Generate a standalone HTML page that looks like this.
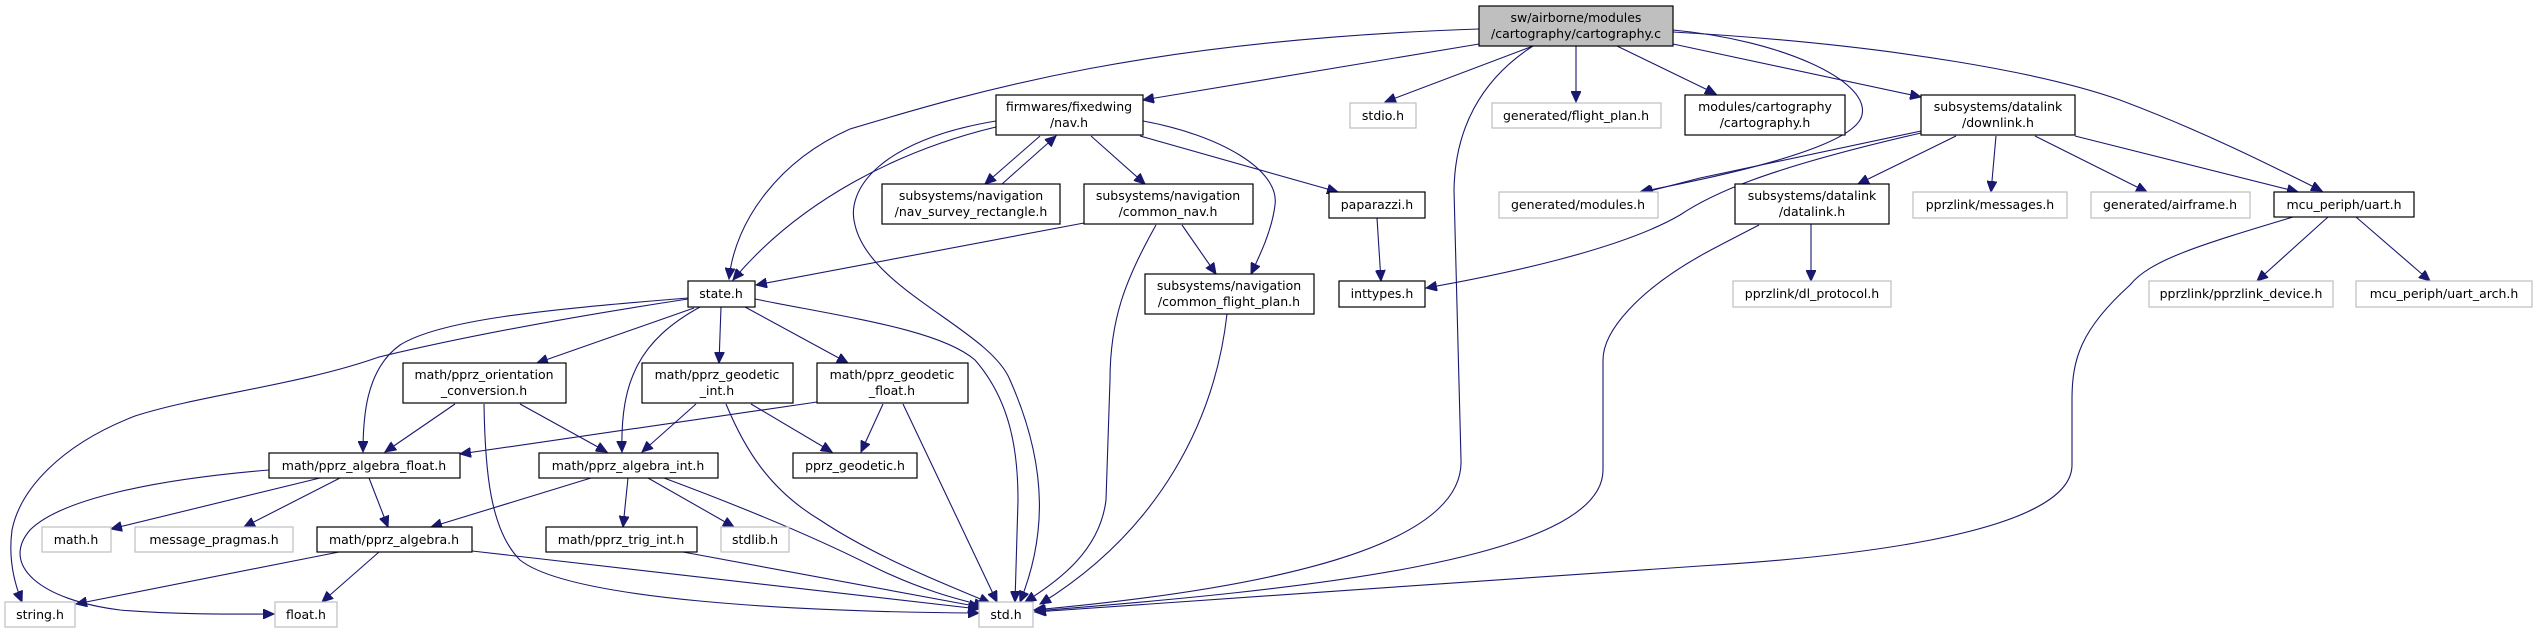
<!DOCTYPE html>
<html><head><meta charset="utf-8"><style>
html,body{margin:0;padding:0;background:#fff;}
svg{display:block;}
text{font-family:"DejaVu Sans","Liberation Sans",sans-serif;font-size:12.5px;fill:#000;}
.n{fill:#fff;stroke:#000;stroke-width:1.2;}
.g{fill:#fff;stroke:#bfbfbf;stroke-width:1.2;}
.m{fill:#bfbfbf;stroke:#000;stroke-width:1.2;}
.e{fill:none;stroke:#191970;stroke-width:1.1;marker-end:url(#a);}
</style></head><body>
<svg width="2536" height="633" viewBox="0 0 2536 633" xmlns="http://www.w3.org/2000/svg">
<defs><marker id="a" markerUnits="userSpaceOnUse" markerWidth="12" markerHeight="10" refX="11" refY="5" orient="auto"><path d="M0,0 L11,5 L0,10 z" fill="#191970" stroke="#191970"/></marker></defs>
<g>
<path class="e" d="M1479,29 C1150,40 980,90 850,129 C780,160 735,220 729,279"/>
<path class="e" d="M1479,44 L1143,100"/>
<path class="e" d="M1533,46 L1385,102"/>
<path class="e" d="M1576,46 L1576,102"/>
<path class="e" d="M1617,46 L1716,94"/>
<path class="e" d="M1673,44 L1921,97"/>
<path class="e" d="M1673,32 C1900,45 2050,75 2120,100 C2200,130 2270,165 2322,191"/>
<path class="e" d="M1533,46 C1480,80 1455,130 1454,190 L1461,460 C1465,560 1200,595 1034,610"/>
<path class="e" d="M1673,30 C1780,40 1870,80 1862,115 C1855,150 1700,180 1640,192"/>
<path class="e" d="M1921,131 L1700,178 L1642,193"/>
<path class="e" d="M1921,133 C1760,170 1710,195 1680,215 C1620,250 1500,275 1426,288"/>
<path class="e" d="M1759,225 C1730,240 1710,250 1700,256 C1640,290 1603,330 1603,360 L1603,470 C1603,560 1300,590 1035,611"/>
<path class="e" d="M1956,136 L1858,184"/>
<path class="e" d="M1996,136 L1991,192"/>
<path class="e" d="M2035,136 L2147,192"/>
<path class="e" d="M2075,136 L2298,192"/>
<path class="e" d="M1811,224 L1811,281"/>
<path class="e" d="M2328,217 L2257,281"/>
<path class="e" d="M2356,217 L2430,281"/>
<path class="e" d="M2293,217 C2200,245 2150,260 2130,285 C2080,330 2072,360 2072,400 L2072,465 C2072,540 1800,560 1700,566 C1500,580 1200,600 1035,612"/>
<path class="e" d="M996,127 C900,150 800,200 733,280"/>
<path class="e" d="M1084,223 L756,285"/>
<path class="e" d="M996,121 C880,140 845,190 855,225 C870,290 990,330 1010,380 C1050,470 1045,540 1020,602"/>
<path class="e" d="M1040,136 L985,184"/>
<path class="e" d="M1002,184 L1056,136"/>
<path class="e" d="M1091,136 L1145,184"/>
<path class="e" d="M1140,136 L1338,192"/>
<path class="e" d="M1143,121 C1220,135 1280,170 1275,205 C1272,230 1260,255 1251,274"/>
<path class="e" d="M1182,225 L1216,274"/>
<path class="e" d="M1156,225 C1125,280 1110,320 1110,380 L1106,500 C1100,550 1060,580 1025,602"/>
<path class="e" d="M1227,314 C1215,420 1160,530 1040,604"/>
<path class="e" d="M1377,218 L1381,281"/>
<path class="e" d="M688,299 C550,320 450,340 379,357 C300,385 200,395 135,416 C60,445 20,490 12,530 C8,560 15,585 22,602"/>
<path class="e" d="M688,298 C540,310 440,320 400,345 C365,370 363,420 363,452"/>
<path class="e" d="M694,308 L537,363"/>
<path class="e" d="M700,307 C640,340 620,380 622,452"/>
<path class="e" d="M721,307 L719,363"/>
<path class="e" d="M745,307 L848,363"/>
<path class="e" d="M755,299 C850,318 940,330 975,360 C1010,400 1018,450 1018,500 L1015,602"/>
<path class="e" d="M455,404 L385,452"/>
<path class="e" d="M520,404 L607,452"/>
<path class="e" d="M484,404 C485,470 490,530 520,560 C570,600 800,612 979,613"/>
<path class="e" d="M696,404 L642,452"/>
<path class="e" d="M751,404 L832,452"/>
<path class="e" d="M726,404 C745,450 770,490 820,520 C880,560 960,590 990,603"/>
<path class="e" d="M817,402 L460,454"/>
<path class="e" d="M883,404 L861,452"/>
<path class="e" d="M903,404 L997,602"/>
<path class="e" d="M269,470 C150,480 60,500 30,530 C0,565 40,600 120,610 C180,615 240,614 274,614"/>
<path class="e" d="M320,478 L111,529"/>
<path class="e" d="M340,478 L244,527"/>
<path class="e" d="M369,478 L388,527"/>
<path class="e" d="M591,478 L431,527"/>
<path class="e" d="M628,478 L623,527"/>
<path class="e" d="M648,478 L734,527"/>
<path class="e" d="M664,478 C750,510 820,540 870,565 C920,590 960,600 985,606"/>
<path class="e" d="M339,552 L76,604"/>
<path class="e" d="M379,552 L322,602"/>
<path class="e" d="M472,551 L979,609"/>
<path class="e" d="M683,552 L980,607"/>
</g>
<g text-anchor="middle">
<rect class="m" x="1479" y="6" width="194" height="40"/><text x="1576" y="22">sw/airborne/modules</text><text x="1576" y="38">/cartography/cartography.c</text>
<rect class="n" x="996" y="95" width="147" height="40"/><text x="1069" y="111">firmwares/fixedwing</text><text x="1069" y="127">/nav.h</text>
<rect class="g" x="1350" y="103" width="66" height="25"/><text x="1383" y="120">stdio.h</text>
<rect class="g" x="1492" y="103" width="169" height="25"/><text x="1576" y="120">generated/flight_plan.h</text>
<rect class="n" x="1685" y="95" width="160" height="40"/><text x="1765" y="111">modules/cartography</text><text x="1765" y="127">/cartography.h</text>
<rect class="n" x="1921" y="95" width="154" height="40"/><text x="1998" y="111">subsystems/datalink</text><text x="1998" y="127">/downlink.h</text>
<rect class="n" x="2274" y="192" width="140" height="25"/><text x="2344" y="209">mcu_periph/uart.h</text>
<rect class="n" x="882" y="184" width="178" height="40"/><text x="971" y="200">subsystems/navigation</text><text x="971" y="216">/nav_survey_rectangle.h</text>
<rect class="n" x="1084" y="184" width="169" height="40"/><text x="1168" y="200">subsystems/navigation</text><text x="1168" y="216">/common_nav.h</text>
<rect class="n" x="1329" y="192" width="96" height="26"/><text x="1377" y="209">paparazzi.h</text>
<rect class="g" x="1499" y="192" width="159" height="26"/><text x="1578" y="209">generated/modules.h</text>
<rect class="n" x="1735" y="184" width="154" height="40"/><text x="1812" y="200">subsystems/datalink</text><text x="1812" y="216">/datalink.h</text>
<rect class="g" x="1913" y="192" width="154" height="26"/><text x="1990" y="209">pprzlink/messages.h</text>
<rect class="g" x="2091" y="192" width="159" height="26"/><text x="2170" y="209">generated/airframe.h</text>
<rect class="n" x="1145" y="274" width="169" height="40"/><text x="1229" y="290">subsystems/navigation</text><text x="1229" y="306">/common_flight_plan.h</text>
<rect class="n" x="1339" y="281" width="86" height="26"/><text x="1382" y="298">inttypes.h</text>
<rect class="n" x="688" y="281" width="67" height="26"/><text x="721" y="298">state.h</text>
<rect class="g" x="1733" y="281" width="158" height="26"/><text x="1812" y="298">pprzlink/dl_protocol.h</text>
<rect class="g" x="2149" y="281" width="184" height="26"/><text x="2241" y="298">pprzlink/pprzlink_device.h</text>
<rect class="g" x="2356" y="281" width="176" height="26"/><text x="2444" y="298">mcu_periph/uart_arch.h</text>
<rect class="n" x="403" y="363" width="163" height="40"/><text x="484" y="379">math/pprz_orientation</text><text x="484" y="395">_conversion.h</text>
<rect class="n" x="642" y="363" width="151" height="40"/><text x="717" y="379">math/pprz_geodetic</text><text x="717" y="395">_int.h</text>
<rect class="n" x="817" y="363" width="151" height="40"/><text x="892" y="379">math/pprz_geodetic</text><text x="892" y="395">_float.h</text>
<rect class="n" x="269" y="453" width="191" height="25"/><text x="364" y="470">math/pprz_algebra_float.h</text>
<rect class="n" x="539" y="453" width="179" height="25"/><text x="628" y="470">math/pprz_algebra_int.h</text>
<rect class="n" x="793" y="453" width="124" height="25"/><text x="855" y="470">pprz_geodetic.h</text>
<rect class="g" x="42" y="527" width="69" height="25"/><text x="76" y="544">math.h</text>
<rect class="g" x="135" y="527" width="158" height="25"/><text x="214" y="544">message_pragmas.h</text>
<rect class="n" x="317" y="527" width="155" height="25"/><text x="394" y="544">math/pprz_algebra.h</text>
<rect class="n" x="546" y="527" width="151" height="25"/><text x="621" y="544">math/pprz_trig_int.h</text>
<rect class="g" x="721" y="527" width="68" height="25"/><text x="755" y="544">stdlib.h</text>
<rect class="g" x="5" y="602" width="70" height="25"/><text x="40" y="619">string.h</text>
<rect class="g" x="275" y="602" width="62" height="25"/><text x="306" y="619">float.h</text>
<rect class="g" x="979" y="602" width="54" height="25"/><text x="1006" y="619">std.h</text>
</g>
</svg>
</body></html>
